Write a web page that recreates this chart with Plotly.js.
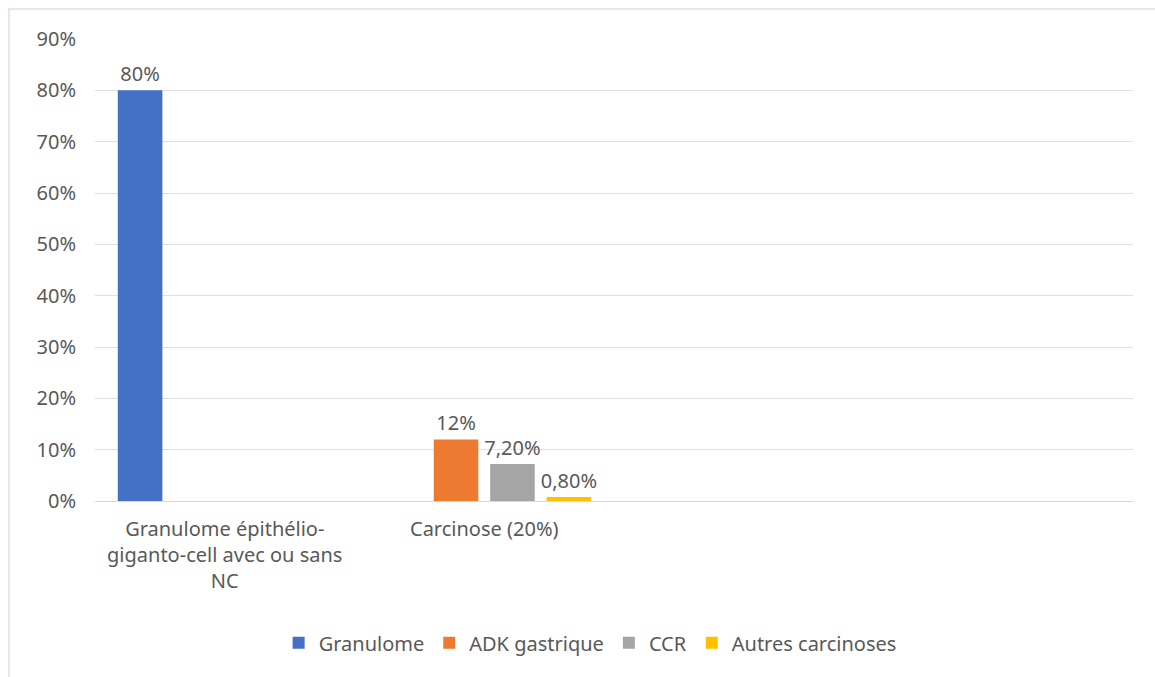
<!DOCTYPE html>
<html>
<head>
<meta charset="utf-8">
<script src="https://cdn.plot.ly/plotly-3.0.1.min.js"></script>
<style>
  html, body { margin: 0; padding: 0; background: #fff; }
  #frame { position: absolute; left: 8px; top: 8px; width: 1160px; height: 680px; border-top: 2px solid #e3e7ee; border-left: 2px solid #e3e7ee; box-sizing: border-box; }
  #chart { position: absolute; left: 0; top: 0; width: 1155px; height: 677px; }
</style>
</head>
<body>
<div id="frame"></div>
<div id="chart"></div>
<script>
const categories = ['Granulome épithélio-<br>giganto-cell avec ou sans<br>NC', 'Carcinose (20%)', '', ''];
const seriesNames = ['Granulome', 'ADK gastrique', 'CCR', 'Autres carcinoses'];
const granulome = [0.80, null, null, null];
const adkGastrique = [null, 0.12, null, null];
const ccr = [null, 0.072, null, null];
const autres = [null, 0.008, null, null];
const granulomeLabels = ['80%', '', '', ''];
const adkLabels = ['', '12%', '', ''];
const ccrLabels = ['', '7,20%', '', ''];
const autresLabels = ['', '0,80%', '', ''];
const yTicks = [0, 0.1, 0.2, 0.3, 0.4, 0.5, 0.6, 0.7, 0.8, 0.9];

const colors = ['#4470C6', '#EE7A32', '#A5A5A5', '#FFC000'];
const xPos = categories.map((c, i) => i);
const values = [granulome, adkGastrique, ccr, autres];
const labels = [granulomeLabels, adkLabels, ccrLabels, autresLabels];
const font = 'Noto Sans, Open Sans, sans-serif';
const textColor = '#595959';
const fs = 20;

const traces = values.map((v, k) => ({
  type: 'bar',
  name: seriesNames[k],
  x: xPos,
  y: v,
  text: labels[k],
  textposition: 'outside',
  constraintext: 'none',
  cliponaxis: false,
  textfont: { family: font, size: fs, color: textColor },
  marker: { color: colors[k] },
  hoverinfo: 'none'
}));

const layout = {
  width: 1155, height: 677,
  paper_bgcolor: 'rgba(0,0,0,0)', plot_bgcolor: 'rgba(0,0,0,0)',
  margin: { l: 95, r: 22, t: 39, b: 176 },
  barmode: 'group',
  bargap: 0.13,
  bargroupgap: 0.21,
  font: { family: font, size: fs, color: textColor },
  showlegend: true,
  legend: {
    orientation: 'h', x: 0.477, xanchor: 'center', y: -0.307, yanchor: 'middle',
    font: { family: font, size: fs, color: textColor },
    itemwidth: 30, tracegroupgap: 0, traceorder: 'normal'
  },
  xaxis: {
    range: [-0.5, 3.5],
    tickmode: 'array', tickvals: xPos, ticktext: categories,
    showgrid: false, zeroline: false,
    showline: true, linecolor: '#d9d9d9', linewidth: 1,
    ticks: '', ticklabelstandoff: 10,
    tickfont: { family: font, size: fs, color: textColor },
    fixedrange: true
  },
  yaxis: {
    range: [0, 0.9],
    tickmode: 'array', tickvals: yTicks,
    tickformat: '.0%',
    showgrid: true, gridcolor: '#e0e0e0', gridwidth: 1,
    zeroline: false, showline: false,
    ticks: '', ticklabelstandoff: 18,
    tickfont: { family: font, size: fs, color: textColor },
    fixedrange: true
  }
};

Plotly.newPlot('chart', traces, layout, { displayModeBar: false, staticPlot: true });
</script>
</body>
</html>
